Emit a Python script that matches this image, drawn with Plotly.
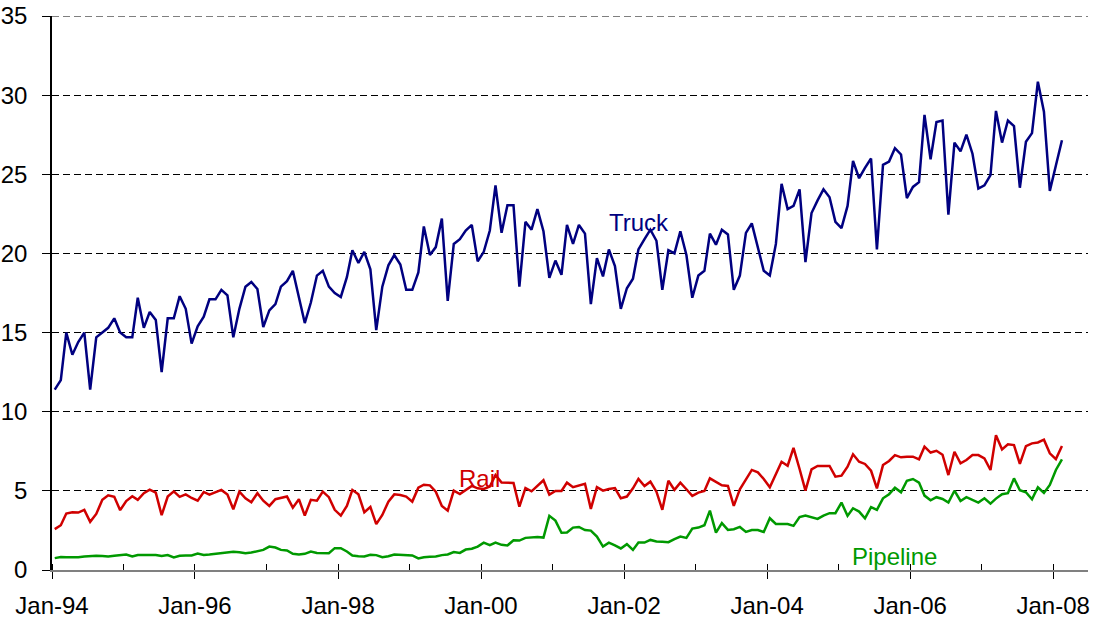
import pandas as pd
import plotly.graph_objects as go

months = pd.date_range("1994-01-01", periods=170, freq="MS") + pd.Timedelta(days=14)

truck = [11.4, 12.0, 15.0, 13.6, 14.4, 15.0, 11.4, 14.7, 15.0, 15.3, 15.9, 15.0, 14.7, 14.7, 17.2, 15.3, 16.3, 15.8, 12.5, 15.9, 15.9, 17.3, 16.5, 14.3, 15.4, 16.0, 17.1, 17.1, 17.7, 17.35,
         14.7, 16.5, 17.9, 18.2, 17.75, 15.35, 16.4, 16.8, 17.9, 18.25, 18.9, 17.25, 15.6, 16.9, 18.6, 18.9, 17.9, 17.5, 17.25, 18.5, 20.2, 19.4, 20.1, 19.0, 15.15, 17.9, 19.25, 19.9, 19.3, 17.7,
         17.7, 18.8, 21.7, 19.9, 20.4, 22.2, 17.0, 20.6, 20.9, 21.45, 21.8, 19.5, 20.1, 21.45, 24.3, 21.3, 23.05, 23.05, 17.9, 22.0, 21.5, 22.8, 21.4, 18.45, 19.55, 18.65, 21.8, 20.6, 21.8, 21.25,
         16.8, 19.7, 18.55, 20.25, 19.2, 16.5, 17.8, 18.4, 20.25, 20.9, 21.5, 20.8, 17.7, 20.2, 20.0, 21.4, 19.9, 17.2, 18.6, 18.9, 21.25, 20.55, 21.5, 21.2, 17.7, 18.6, 21.3, 21.9, 20.4, 18.9,
         18.6, 20.6, 24.4, 22.8, 23.0, 24.05, 19.45, 22.55, 23.35, 24.05, 23.55, 22.0, 21.6, 23.0, 25.85, 24.75, 25.4, 26.0, 20.25, 25.6, 25.8, 26.65, 26.25, 23.5, 24.2, 24.5, 28.75, 25.95, 28.3, 28.4,
         22.45, 27.0, 26.45, 27.5, 26.3, 24.1, 24.3, 24.95, 29.0, 27.0, 28.4, 28.05, 24.15, 27.05, 27.6, 30.85, 28.95, 23.95, 25.55, 27.15]

rail = [2.58, 2.83, 3.57, 3.65, 3.63, 3.8, 3.04, 3.54, 4.43, 4.72, 4.62, 3.78, 4.36, 4.66, 4.43, 4.85, 5.08, 4.89, 3.46, 4.64, 4.97, 4.62, 4.78, 4.55, 4.38, 4.93, 4.76, 4.89, 5.06, 4.77,
        3.84, 4.95, 4.53, 4.28, 4.85, 4.38, 4.05, 4.47, 4.57, 4.64, 3.94, 4.47, 3.44, 4.43, 4.38, 4.95, 4.6, 3.8, 3.44, 4.05, 5.06, 4.78, 3.65, 3.98, 2.9, 3.48, 4.32, 4.78, 4.74, 4.64,
        4.32, 5.2, 5.39, 5.35, 4.95, 4.05, 3.75, 5.01, 4.8, 5.04, 5.31, 5.16, 5.12, 5.27, 6.0, 5.52, 5.52, 5.5, 4.0, 5.18, 4.97, 5.31, 5.67, 4.76, 4.99, 4.99, 5.52, 5.23, 5.35, 5.45,
        3.86, 5.23, 5.01, 5.12, 5.18, 4.53, 4.64, 5.16, 5.75, 5.31, 5.58, 4.95, 3.8, 5.64, 5.06, 5.52, 5.1, 4.68, 4.89, 4.99, 5.79, 5.54, 5.35, 5.31, 4.05, 5.1, 5.69, 6.32, 6.17, 5.75,
        5.23, 6.07, 6.84, 6.59, 7.72, 6.38, 5.01, 6.36, 6.57, 6.57, 6.57, 5.9, 5.96, 6.53, 7.31, 6.84, 6.7, 6.27, 5.16, 6.63, 6.89, 7.26, 7.12, 7.16, 7.16, 6.99, 7.79, 7.42, 7.53, 7.28,
        6.0, 7.47, 6.74, 6.95, 7.26, 7.26, 7.05, 6.32, 8.52, 7.62, 7.94, 7.89, 6.7, 7.83, 8.0, 8.06, 8.23, 7.37, 7.01, 7.83]

pipeline = [0.75, 0.82, 0.8, 0.78, 0.8, 0.85, 0.88, 0.9, 0.88, 0.85, 0.9, 0.94, 0.98, 0.85, 0.95, 0.94, 0.94, 0.95, 0.88, 0.94, 0.8, 0.9, 0.92, 0.92, 1.04, 0.95, 0.98, 1.02, 1.06, 1.12,
            1.15, 1.12, 1.06, 1.1, 1.21, 1.27, 1.48, 1.42, 1.27, 1.23, 1.02, 0.98, 1.02, 1.17, 1.08, 1.06, 1.06, 1.38, 1.38, 1.17, 0.92, 0.87, 0.85, 0.96, 0.94, 0.81, 0.87, 0.98, 0.96, 0.92,
            0.92, 0.73, 0.81, 0.83, 0.85, 0.94, 0.98, 1.13, 1.08, 1.29, 1.34, 1.48, 1.73, 1.57, 1.73, 1.59, 1.55, 1.88, 1.86, 2.03, 2.07, 2.09, 2.05, 3.42, 3.12, 2.35, 2.37, 2.68, 2.72, 2.52,
            2.49, 2.11, 1.48, 1.73, 1.55, 1.36, 1.63, 1.27, 1.73, 1.73, 1.9, 1.8, 1.78, 1.76, 1.95, 2.11, 2.03, 2.62, 2.68, 2.83, 3.75, 2.36, 2.96, 2.53, 2.58, 2.72, 2.41, 2.53, 2.53, 2.4,
            3.27, 2.91, 2.91, 2.91, 2.79, 3.34, 3.44, 3.34, 3.23, 3.44, 3.59, 3.59, 4.26, 3.42, 3.9, 3.69, 3.27, 3.97, 3.8, 4.53, 4.79, 5.2, 4.91, 5.64, 5.75, 5.52, 4.7, 4.4, 4.6, 4.49,
            4.26, 5.01, 4.36, 4.6, 4.43, 4.26, 4.53, 4.19, 4.51, 4.79, 4.85, 5.79, 5.04, 4.91, 4.47, 5.23, 4.87, 5.37, 6.32, 6.99]

series_names = ["Truck", "Rail", "Pipeline"]
colors = ["#000080", "#D00000", "#009900"]
label_dates = ["2002-03-18", "1999-12-25", "2005-10-12"]
label_values = [21.95, 5.8, 0.83]
y_max = 35

FONT = "Liberation Sans, Arial, sans-serif"

fig = go.Figure()
for name, vals, col in zip(series_names, [truck, rail, pipeline], colors):
    fig.add_trace(go.Scatter(x=months, y=vals, mode="lines", name=name,
                             line=dict(color=col, width=2.5)))

for name, d, v, col in zip(series_names, label_dates, label_values, colors):
    fig.add_annotation(x=d, y=v, text=name, showarrow=False,
                       font=dict(family=FONT, size=24, color=col),
                       xanchor="center", yanchor="middle")

# top gridline at the axis maximum (plotly omits the grid line on the plot edge)
fig.add_shape(type="line", xref="paper", yref="y", x0=0, x1=1, y0=y_max, y1=y_max,
              line=dict(color="black", width=1, dash="7px,4px"), layer="below")

fig.update_layout(
    width=1094, height=618,
    margin=dict(l=52, r=6, t=16, b=48, autoexpand=False),
    paper_bgcolor="white", plot_bgcolor="white",
    showlegend=False,
    font=dict(family=FONT, size=24, color="black"),
    xaxis=dict(
        type="date", automargin=False,
        range=["1994-01-01", "2008-06-27"],
        tick0="1994-01-01", dtick="M24", tickformat="%b-%y",
        ticks="outside", ticklen=7, tickcolor="black", tickwidth=1,
        minor=dict(dtick="M12", tick0="1994-01-01", ticks="inside", ticklen=6, tickcolor="black", showgrid=False),
        showgrid=False, showline=True, linecolor="#808080", linewidth=2,
        ticklabelstandoff=6,
        tickfont=dict(family=FONT, size=24, color="black"),
    ),
    yaxis=dict(
        automargin=False,
        range=[0, y_max], tick0=0, dtick=5,
        ticks="outside", ticklen=8, tickcolor="black", tickwidth=1,
        showgrid=True, gridcolor="black", gridwidth=1, griddash="7px,4px",
        showline=True, linecolor="black", linewidth=1.5,
        zeroline=False,
        ticklabelstandoff=10,
        tickfont=dict(family=FONT, size=24, color="black"),
    ),
)

# remove the default 8px page margin so the figure fills the window exactly
fig.write_html("out.html",
               config={"displayModeBar": False},
               post_script="document.body.style.margin='0';document.body.style.overflow='hidden';")
